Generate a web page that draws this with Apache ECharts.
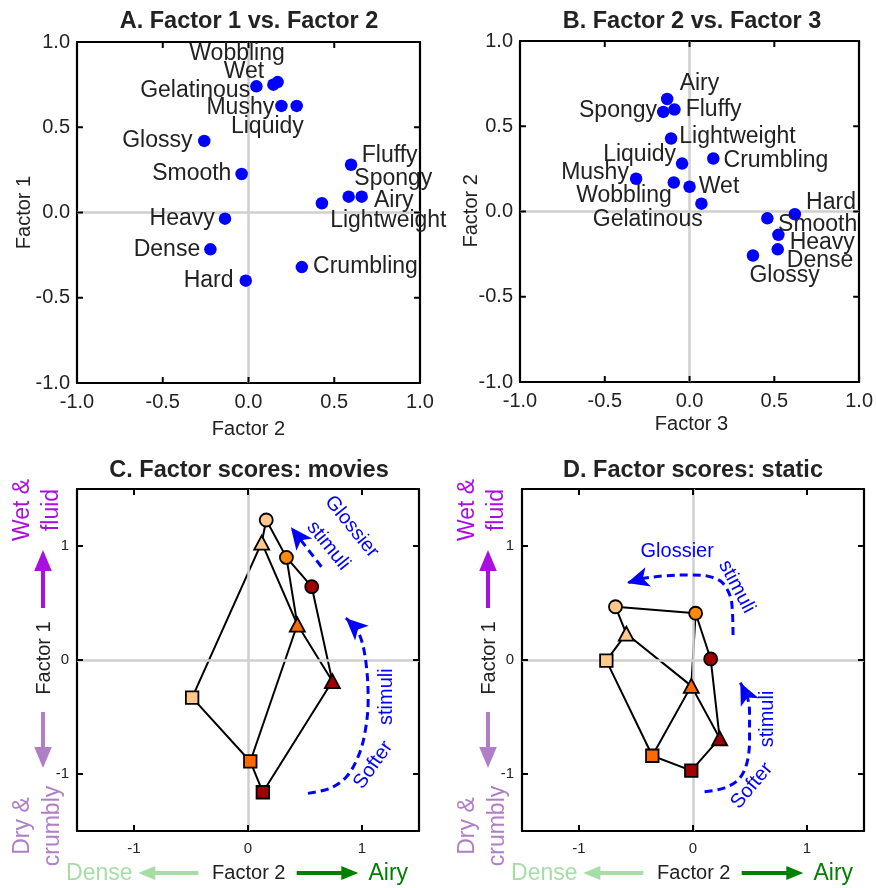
<!DOCTYPE html>
<html>
<head>
<meta charset="utf-8">
<script src="https://cdn.jsdelivr.net/npm/echarts@6/dist/echarts.min.js"></script>
<style>
  html, body { margin: 0; padding: 0; background: #ffffff; }
  #chart { width: 876px; height: 888px; }
</style>
</head>
<body>
<div id="chart"></div>
<script>
const FONT = '"Liberation Sans", Arial, Helvetica, sans-serif';
const TEXT = '#222222';

// Rotated factor loadings of the texture descriptors
const descriptors = ['Wobbling', 'Wet', 'Gelatinous', 'Mushy', 'Liquidy', 'Glossy', 'Smooth', 'Heavy',
  'Dense', 'Hard', 'Crumbling', 'Fluffy', 'Spongy', 'Airy', 'Lightweight'];
const factor1 = [0.765, 0.750, 0.740, 0.625, 0.625, 0.420, 0.226, -0.036, -0.216, -0.400, -0.320, 0.280, 0.093, 0.093, 0.054];
const factor2 = [0.170, 0.145, 0.046, 0.192, 0.281, -0.258, -0.040, -0.137, -0.222, -0.016, 0.311, 0.598, 0.584, 0.660, 0.428];
const factor3 = [-0.093, 0.000, 0.070, -0.315, -0.044, 0.374, 0.459, 0.524, 0.520, 0.621, 0.140, -0.089, -0.155, -0.132, -0.109];

// Tick positions and their printed labels
const loadingTicks = [-1, -0.5, 0, 0.5, 1];
const loadingTickLabels = ['-1.0', '-0.5', '0.0', '0.5', '1.0'];
const scoreTicks = [-1, 0, 1];
const scoreTickLabels = ['-1', '0', '1'];

// Factor scores as [Factor 2, Factor 1], ordered light -> mid -> dark level
const movieCircles   = [[0.160, 1.228], [0.337, 0.900], [0.559, 0.643]];
const movieTriangles = [[0.120, 1.030], [0.433, 0.311], [0.740, -0.186]];
const movieSquares   = [[-0.490, -0.330], [0.020, -0.890], [0.130, -1.160]];
const staticCircles   = [[-0.680, 0.467], [0.023, 0.410], [0.155, 0.009]];
const staticTriangles = [[-0.585, 0.231], [-0.015, -0.227], [0.234, -0.687]];
const staticSquares   = [[-0.760, -0.006], [-0.357, -0.840], [-0.015, -0.970]];

// Dashed guide paths (data units), ending at the arrowhead centre
const movieGlossierPath = [[0.644, 0.818], [0.376, 1.164]];
const movieSofterPath = [[0.526, -1.170], [0.717, -1.126], [0.864, -1.024], [0.966, -0.848], [1.025, -0.643],
  [1.054, -0.351], [1.039, -0.058], [0.995, 0.175], [0.930, 0.300], [0.858, 0.367]];
const staticGlossierPath = [[0.351, 0.219], [0.340, 0.500], [0.263, 0.673], [0.146, 0.731], [-0.030, 0.746],
  [-0.263, 0.737], [-0.450, 0.712], [-0.579, 0.675]];
const staticSofterPath = [[0.102, -1.155], [0.263, -1.126], [0.395, -1.053], [0.468, -0.921], [0.496, -0.702],
  [0.496, -0.468], [0.478, -0.330], [0.415, -0.199]];

// ---- styling ----
const levelColors = {
  circle:   ['#FFC98B', '#FF8A0A', '#A00000'],
  triangle: ['#FFC98B', '#FF6A00', '#A00000'],
  rect:     ['#FFC98B', '#FF6A00', '#A00000']
};
const shapeSizes = { circle: 13, triangle: [15, 14], rect: 12.5 };

// label placement: [mode, distance or dx, dy]
const placeA = {
  Wobbling: ['c', -40.6, -28], Wet: ['c', -29.4, -13.3], Gelatinous: ['left', 0, 4], Mushy: ['left', 1, 1.5],
  Liquidy: ['c', -29.3, 20.3], Glossy: ['left', 5.5, 0], Smooth: ['left', 4, 0], Heavy: ['left', 4, 0],
  Dense: ['left', 4, 0], Hard: ['left', 6, 0], Crumbling: ['right', 5, 0], Fluffy: ['right', 4.5, -8.9],
  Spongy: ['c', 44.7, -17.5], Airy: ['right', 6, 4.1], Lightweight: ['right', 2, 17.2]
};
const placeB = {
  Airy: ['c', 32.3, -15.8], Spongy: ['left', 0, -1], Fluffy: ['right', 5, 0], Lightweight: ['right', 2, -2],
  Liquidy: ['c', -42.5, -9], Crumbling: ['right', 4, 2.5], Mushy: ['left', 1, -5.8], Wobbling: ['c', -49.8, 13.1],
  Wet: ['right', 3, 0], Gelatinous: ['c', -53.7, 15.9], Hard: ['right', 5, -11.2], Smooth: ['c', 50.3, 5.9],
  Heavy: ['right', 5, 7.5], Dense: ['c', 42.4, 11.5], Glossy: ['c', 31.6, 20.5]
};

const gridBoxes = [
  { left: 77, top: 42, width: 343, height: 341 },
  { left: 520, top: 41, width: 343, height: 341 },
  { left: 77, top: 489, width: 342, height: 342 },
  { left: 522, top: 489, width: 342, height: 342 }
];
const grids = gridBoxes.map(g => Object.assign({}, g, { show: false }));

const xAxes = [], yAxes = [];
function tickLabel(v, ticks, labels) {
  for (let i = 0; i < ticks.length; i++) if (Math.abs(ticks[i] - v) < 1e-9) return labels[i];
  return '';
}
function makeAxis(gi, isLoading, position, showLabel, margin) {
  const ax = {
    type: 'value', gridIndex: gi, position: position,
    min: isLoading ? -1 : -1.5, max: isLoading ? 1 : 1.5,
    splitLine: { show: false },
    axisLine: { show: true, onZero: false, lineStyle: { color: '#000', width: 2.2 } },
    axisTick: { show: false },
    axisLabel: { show: false }
  };
  if (isLoading) ax.interval = 0.5;
  if (showLabel) {
    ax.axisLabel = {
      show: true, margin: margin, color: TEXT, fontFamily: FONT, fontSize: isLoading ? 20 : 15,
      showMinLabel: true, showMaxLabel: true,
      formatter: v => isLoading ? tickLabel(v, loadingTicks, loadingTickLabels) : tickLabel(v, scoreTicks, scoreTickLabels)
    };
    if (!isLoading) ax.axisLabel.customValues = scoreTicks.slice();
  }
  return ax;
}
const panelKinds = [true, true, false, false];
panelKinds.forEach((isLoading, gi) => {
  xAxes.push(makeAxis(gi, isLoading, 'bottom', true, isLoading ? 9 : 10));
  xAxes.push(makeAxis(gi, isLoading, 'top', false, 0));
  yAxes.push(makeAxis(gi, isLoading, 'left', true, isLoading ? 7 : 8));
  yAxes.push(makeAxis(gi, isLoading, 'right', false, 0));
});

const series = [];

// inward tick marks on all four sides of each panel
const TICK_PX = 6;
panelKinds.forEach((isLoading, gi) => {
  const lo = isLoading ? -1 : -1.5, hi = -lo;
  const ticks = isLoading ? loadingTicks : scoreTicks;
  const box = gridBoxes[gi];
  const lx = TICK_PX * (hi - lo) / box.width, ly = TICK_PX * (hi - lo) / box.height;
  const eps = 0.0005;
  const segs = [];
  ticks.forEach(v => {
    segs.push([[v, lo + ly], [v, lo + eps]], [[v, hi], [v, hi - ly]], [[lo, v], [lo + lx, v]], [[hi, v], [hi - lx, v]]);
  });
  segs.forEach(seg => series.push({
    type: 'line', xAxisIndex: 2 * gi, yAxisIndex: 2 * gi, z: 9, silent: true, symbol: 'none', showSymbol: false,
    clip: false, lineStyle: { color: '#000', width: 2 }, data: seg
  }));
});

// grey zero lines in every panel
for (let gi = 0; gi < 4; gi++) {
  series.push({
    type: 'line', xAxisIndex: 2 * gi, yAxisIndex: 2 * gi, data: [[0, 0]], showSymbol: false, symbol: 'none',
    lineStyle: { opacity: 0 }, z: 1, silent: true,
    markLine: {
      silent: true, symbol: 'none', animation: false, label: { show: false },
      lineStyle: { color: '#CFCFCF', width: 2.5, type: 'solid' },
      data: [{ xAxis: 0 }, { yAxis: 0 }]
    }
  });
}

// descriptor loadings (panels A and B)
function loadingSeries(gi, xs, ys, place) {
  return {
    type: 'scatter', xAxisIndex: 2 * gi, yAxisIndex: 2 * gi, z: 5,
    symbol: 'circle', symbolSize: 12.5,
    itemStyle: { color: '#0000FF', opacity: 1 },
    label: { show: true, formatter: '{b}', color: TEXT, fontFamily: FONT, fontSize: 23, textBorderWidth: 0 },
    data: descriptors.map((name, i) => {
      const p = place[name];
      const label = p[0] === 'c'
        ? { position: 'inside', offset: [p[1], p[2]] }
        : { position: p[0], distance: p[1], offset: [0, p[2]] };
      return { name: name, value: [xs[i], ys[i]], label: label };
    })
  };
}
series.push(loadingSeries(0, factor2, factor1, placeA));
series.push(loadingSeries(1, factor3, factor2, placeB));

// factor-score panels (C and D)
function scoreSeries(gi, circles, triangles, squares) {
  const xi = 2 * gi;
  const rows = { circle: circles, triangle: triangles, rect: squares };
  const edge = { color: '#000', width: 2 };
  // same shape across levels
  Object.keys(rows).forEach(shape => {
    series.push({ type: 'line', xAxisIndex: xi, yAxisIndex: xi, z: 3, symbol: 'none', showSymbol: false,
      lineStyle: edge, data: rows[shape], silent: true });
  });
  // same level across shapes
  for (let lv = 0; lv < 3; lv++) {
    series.push({ type: 'line', xAxisIndex: xi, yAxisIndex: xi, z: 3, symbol: 'none', showSymbol: false,
      lineStyle: edge, data: [circles[lv], triangles[lv], squares[lv]], silent: true });
  }
  Object.keys(rows).forEach(shape => {
    series.push({
      type: 'scatter', xAxisIndex: xi, yAxisIndex: xi, z: 6, symbol: shape, symbolSize: shapeSizes[shape],
      data: rows[shape].map((pt, lv) => ({ value: pt, itemStyle: { color: levelColors[shape][lv] } })),
      itemStyle: { borderColor: '#000', borderWidth: 1.8, opacity: 1 }
    });
  });
}
scoreSeries(2, movieCircles, movieTriangles, movieSquares);
scoreSeries(3, staticCircles, staticTriangles, staticSquares);

// dashed blue guide arrows
function guideArrow(gi, path) {
  const xi = 2 * gi;
  const a = path[path.length - 2], b = path[path.length - 1];
  const ang = Math.atan2(b[1] - a[1], b[0] - a[0]) * 180 / Math.PI - 90;
  series.push({ type: 'line', xAxisIndex: xi, yAxisIndex: xi, z: 7, symbol: 'none', showSymbol: false,
    smooth: path.length > 2 ? 0.35 : false, silent: true,
    lineStyle: { color: '#0000FF', width: 3, type: [8, 5] }, data: path });
  series.push({ type: 'scatter', xAxisIndex: xi, yAxisIndex: xi, z: 8, symbol: 'arrow', symbolSize: [15, 22],
    symbolRotate: ang, itemStyle: { color: '#0000FF', opacity: 1 }, data: [b], silent: true });
}
guideArrow(2, movieGlossierPath);
guideArrow(2, movieSofterPath);
guideArrow(3, staticGlossierPath);
guideArrow(3, staticSofterPath);

// ---- text and arrow decorations ----
const deg = Math.PI / 180;
function txt(text, x, y, opts) {
  opts = opts || {};
  return {
    type: 'text', x: x, y: y, rotation: (opts.rot || 0) * deg, z: 20,
    style: {
      text: text, fill: opts.color || TEXT, fontFamily: FONT, fontSize: opts.size || 20,
      fontWeight: opts.bold ? 'bold' : 'normal', align: 'center', verticalAlign: 'middle',
      lineHeight: opts.lh || undefined
    }
  };
}
function arrowV(x, y0, tip, color) {
  const dir = tip < y0 ? -1 : 1, len = 21, hw = 8.8;
  const base = tip - dir * len;
  return [
    { type: 'line', z: 20, shape: { x1: x, y1: y0, x2: x, y2: base + dir * 1 }, style: { stroke: color, lineWidth: 4 } },
    { type: 'polygon', z: 20, shape: { points: [[x, tip], [x - hw, base], [x + hw, base]] }, style: { fill: color } }
  ];
}
function arrowH(x0, tip, y, color) {
  const dir = tip < x0 ? -1 : 1, len = 17, hw = 7;
  const base = tip - dir * len;
  return [
    { type: 'line', z: 20, shape: { x1: x0, y1: y, x2: base + dir * 1, y2: y }, style: { stroke: color, lineWidth: 4 } },
    { type: 'polygon', z: 20, shape: { points: [[tip, y], [base, y - hw], [base, y + hw]] }, style: { fill: color } }
  ];
}

const PURPLE = '#A80FE0', LIGHT_PURPLE = '#B07EC6', LIGHT_GREEN = '#A6DDA6', DARK_GREEN = '#008000', BLUE = '#0000FF';

function scoreFrame(gl) {
  return [
    txt('Wet &\nfluid', gl - 39.5, 510, { rot: 90, color: PURPLE, size: 23, lh: 29 }),
    ...arrowV(gl - 34, 608, 550, PURPLE),
    txt('Factor 1', gl - 33, 658, { rot: 90, size: 20 }),
    ...arrowV(gl - 34, 712, 768, LIGHT_PURPLE),
    txt('Dry &\ncrumbly', gl - 39, 826, { rot: 90, color: LIGHT_PURPLE, size: 23, lh: 30 }),
    txt('Dense', gl + 22.3, 874, { color: LIGHT_GREEN, size: 23 }),
    ...arrowH(gl + 121.3, gl + 61.3, 873, LIGHT_GREEN),
    txt('Factor 2', gl + 171.8, 873, { size: 20 }),
    ...arrowH(gl + 219.7, gl + 281.3, 873, DARK_GREEN),
    txt('Airy', gl + 311.3, 874, { color: DARK_GREEN, size: 23 })
  ];
}

const graphics = [
  txt('A. Factor 1 vs. Factor 2', 249, 21.5, { bold: true, size: 23.5 }),
  txt('B. Factor 2 vs. Factor 3', 692, 21.7, { bold: true, size: 23.5 }),
  txt('C. Factor scores: movies', 249, 470.8, { bold: true, size: 23.5 }),
  txt('D. Factor scores: static', 693, 470.8, { bold: true, size: 23.5 }),
  txt('Factor 2', 248.5, 429, {}),
  txt('Factor 1', 24, 212.5, { rot: 90 }),
  txt('Factor 3', 691.5, 424, {}),
  txt('Factor 2', 471.8, 210.8, { rot: 90 }),
  ...scoreFrame(77),
  ...scoreFrame(522),
  txt('Glossier', 351.7, 526.7, { rot: -51, color: BLUE }),
  txt('stimuli', 328.3, 545.8, { rot: -51, color: BLUE }),
  txt('stimuli', 386.7, 696.7, { rot: 90, color: BLUE }),
  txt('Softer', 373.3, 765, { rot: 55, color: BLUE }),
  txt('Glossier', 677.2, 551.7, { color: BLUE }),
  txt('stimuli', 736.7, 586.7, { rot: -62, color: BLUE }),
  txt('stimuli', 767.5, 719, { rot: 90, color: BLUE }),
  txt('Softer', 751.8, 785.8, { rot: 50, color: BLUE })
];

const chart = echarts.init(document.getElementById('chart'), null, { renderer: 'canvas' });
chart.setOption({
  animation: false,
  backgroundColor: '#ffffff',
  textStyle: { fontFamily: FONT },
  grid: grids,
  xAxis: xAxes,
  yAxis: yAxes,
  series: series,
  graphic: { elements: graphics }
});
</script>
</body>
</html>
